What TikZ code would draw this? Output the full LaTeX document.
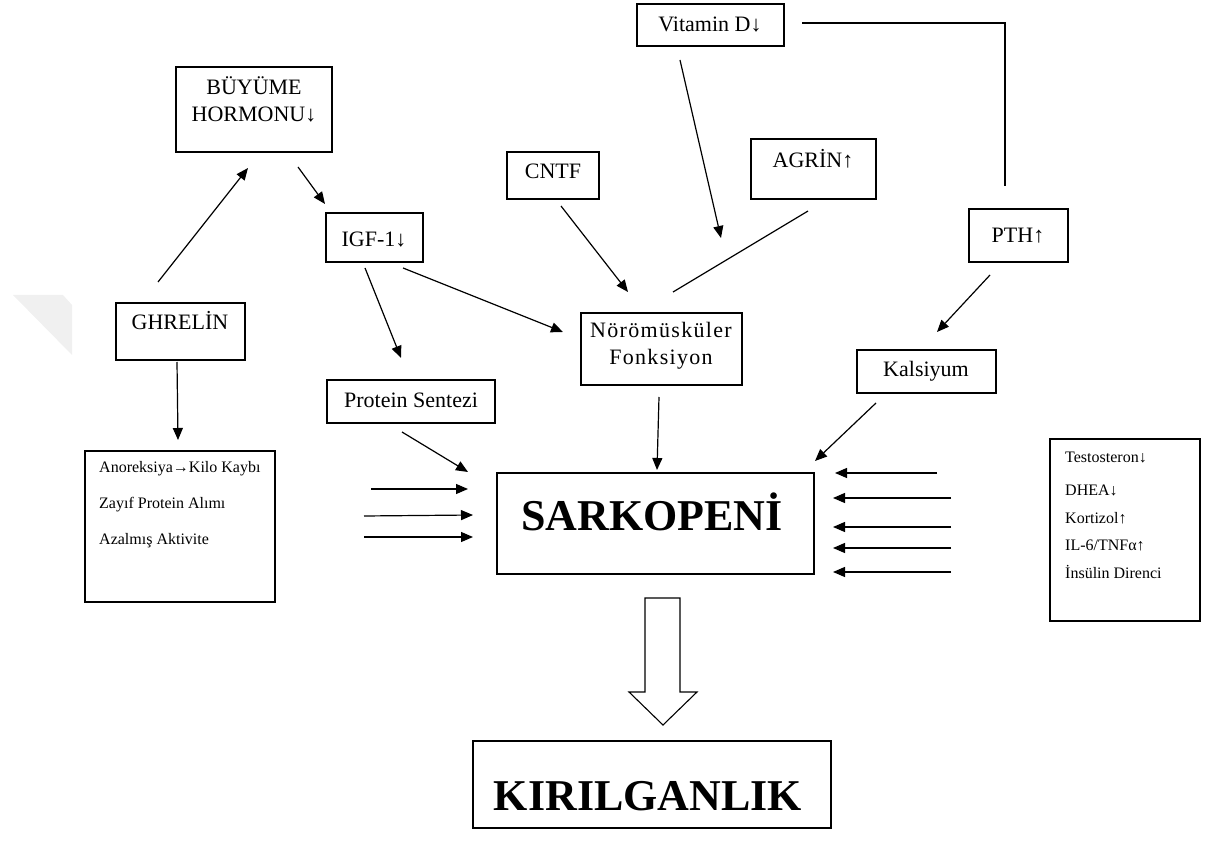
\documentclass[tikz,border=0pt]{standalone}
\usepackage{fontspec}
\setmainfont{Liberation Serif}
\usetikzlibrary{arrows.meta}
\begin{document}
\begin{tikzpicture}[x=1pt,y=-1pt,
  box/.style={draw, line width=1.1pt, inner sep=0pt},
  txt/.style={inner sep=0pt, anchor=base, font=\fontsize{22}{27}\selectfont},
  sml/.style={inner sep=0pt, anchor=base west, font=\fontsize{16}{18}\selectfont},
  big/.style={inner sep=0pt, anchor=base, font=\fontsize{44}{50}\selectfont\bfseries},
  arr/.style={line width=1.2pt, -{Triangle[length=12pt,width=10pt]}},
  ln/.style={line width=1.2pt}]
\useasboundingbox (0,0) rectangle (1216,858);
% watermark
\fill[gray!12] (13,295) -- (63,295) -- (72,305) -- (72,355) -- cycle;
% boxes
\node[box, minimum width=147, minimum height=42] (vit) at (710.5,25) {};
\node[box, minimum width=156, minimum height=85] (buy) at (254,109.5) {};
\node[box, minimum width=125, minimum height=60] (agr) at (813.5,169) {};
\node[box, minimum width=92, minimum height=47] (cntf) at (553,175.5) {};
\node[box, minimum width=99, minimum height=53] (pth) at (1018.5,235.5) {};
\node[box, minimum width=129, minimum height=57] (ghr) at (180.5,331.5) {};
\node[box, minimum width=97, minimum height=49] (igf) at (374.5,237.5) {};
\node[box, minimum width=168, minimum height=43] (prot) at (411,401.5) {};
\node[box, minimum width=161, minimum height=72] (noro) at (661.5,349) {};
\node[box, minimum width=139, minimum height=43] (kal) at (926.5,371.5) {};
\node[box, minimum width=190, minimum height=151] (lbox) at (180,526.5) {};
\node[box, minimum width=317, minimum height=101] (sark) at (655.5,523.5) {};
\node[box, minimum width=150, minimum height=182] (rbox) at (1125,530) {};
\node[box, minimum width=358, minimum height=87] (kir) at (652,784.5) {};
% texts
\node[txt] (tvit) at (710,32) {Vitamin D↓};
\node[txt] (tbuy1) at (254,95) {BÜYÜME};
\node[txt] (tbuy2) at (254,122) {HORMONU↓};
\node[txt] (tagr) at (813,168) {AGRİN↑};
\node[txt] (tcntf) at (553,179) {CNTF};
\node[txt] (tpth) at (1018,243) {PTH↑};
\node[txt] (tghr) at (180,330) {GHRELİN};
\node[txt] (tigf) at (374,247) {IGF-1↓};
\node[txt] (tprot) at (411,408) {Protein Sentezi};
\node[txt] (tnoro1) at (661,338) {\addfontfeature{LetterSpace=6}Nörömüsküler};
\node[txt] (tnoro2) at (661,365) {\addfontfeature{LetterSpace=6}Fonksiyon};
\node[txt] (tkal) at (926,377) {Kalsiyum};
\node[big] (tsark) at (652,530) {SARKOPENİ};
\node[big] (tkir) at (648,810) {KIRILGANLIK};
\node[sml] (l1) at (99,472) {Anoreksiya→Kilo Kaybı};
\node[sml] (l2) at (99,508) {Zayıf Protein Alımı};
\node[sml] (l3) at (99,544) {Azalmış Aktivite};
\node[sml] (r1) at (1065,463) {Testosteron↓};
\node[sml] (r2) at (1065,495) {DHEA↓};
\node[sml] (r3) at (1065,523) {Kortizol↑};
\node[sml] (r4) at (1065,550) {IL-6/TNFα↑};
\node[sml] (r5) at (1065,578) {İnsülin Direnci};
% connector end points
\coordinate (a1s) at (158,282); \coordinate (a1e) at (248,168);
\coordinate (a2s) at (298,167); \coordinate (a2e) at (325,204);
\coordinate (a3s) at (365,268); \coordinate (a3e) at (401,358);
\coordinate (a4s) at (403,268); \coordinate (a4e) at (563,332);
\coordinate (a5s) at (177,362); \coordinate (a5e) at (178,440);
\coordinate (a6s) at (680,60);  \coordinate (a6e) at (721,238);
\coordinate (a7s) at (561,206); \coordinate (a7e) at (628,292);
\coordinate (a8s) at (808,211); \coordinate (a8e) at (673,292);
\coordinate (a9s) at (802,23);  \coordinate (a9c) at (1005,23); \coordinate (a9e) at (1005,186);
\coordinate (a10s) at (990,275); \coordinate (a10e) at (937,332);
\coordinate (a11s) at (876,403); \coordinate (a11e) at (815,461);
\coordinate (a12s) at (659,397); \coordinate (a12e) at (657,470);
\coordinate (a13s) at (402,432); \coordinate (a13e) at (468,472);
\coordinate (h1s) at (371,489); \coordinate (h1e) at (468,489);
\coordinate (h2s) at (364,516); \coordinate (h2e) at (473,515);
\coordinate (h3s) at (364,537); \coordinate (h3e) at (473,537);
\coordinate (k1s) at (937,473); \coordinate (k1e) at (835,473);
\coordinate (k2s) at (951,498); \coordinate (k2e) at (833,498);
\coordinate (k3s) at (951,527); \coordinate (k3e) at (833,527);
\coordinate (k4s) at (951,548); \coordinate (k4e) at (833,548);
\coordinate (k5s) at (951,572); \coordinate (k5e) at (833,572);
% connectors
\draw[arr] (a1s) -- (a1e);
\draw[arr] (a2s) -- (a2e);
\draw[arr] (a3s) -- (a3e);
\draw[arr] (a4s) -- (a4e);
\draw[arr] (a5s) -- (a5e);
\draw[arr] (a6s) -- (a6e);
\draw[arr] (a7s) -- (a7e);
\draw[ln] (a8s) -- (a8e);
\draw[ln] (a9s) -- (a9c) -- (a9e);
\draw[arr] (a10s) -- (a10e);
\draw[arr] (a11s) -- (a11e);
\draw[arr] (a12s) -- (a12e);
\draw[arr] (a13s) -- (a13e);
\draw[arr] (h1s) -- (h1e);
\draw[arr] (h2s) -- (h2e);
\draw[arr] (h3s) -- (h3e);
\draw[arr] (k1s) -- (k1e);
\draw[arr] (k2s) -- (k2e);
\draw[arr] (k3s) -- (k3e);
\draw[arr] (k4s) -- (k4e);
\draw[arr] (k5s) -- (k5e);
% block arrow
\draw[line width=1.1pt, line join=miter] (645,598) -- (680,598) -- (680,692) -- (697,692) -- (663,725) -- (629,692) -- (645,692) -- cycle;
\end{tikzpicture}
\end{document}
